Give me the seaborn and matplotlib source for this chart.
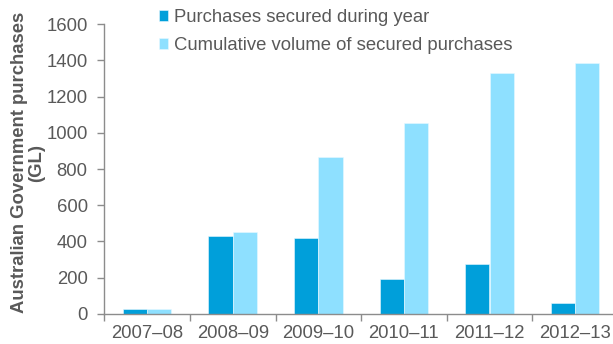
import matplotlib
matplotlib.use("Agg")
import matplotlib.pyplot as plt
import seaborn as sns
import pandas as pd
from matplotlib.ticker import FixedLocator

# Financial years and purchase volumes (GL)
years = ["2007–08", "2008–09", "2009–10", "2010–11", "2011–12", "2012–13"]
secured_during_year = [24, 428, 417, 190, 276, 59]
cumulative_secured = [24, 450, 865, 1054, 1329, 1386]
series_names = ["Purchases secured during year",
                "Cumulative volume of secured purchases"]
y_ticks = [0, 200, 400, 600, 800, 1000, 1200, 1400, 1600]

colors = ["#009FDA", "#8EE0FF"]
text_color = "#595959"
axis_color = "#8C8C8C"
fs = 13.3

df = pd.DataFrame({
    "year": years * 2,
    "value": secured_during_year + cumulative_secured,
    "series": [series_names[0]] * len(years) + [series_names[1]] * len(years),
})

sns.set_style("white")
plt.rcParams["font.family"] = ["Liberation Sans", "DejaVu Sans"]

W, H = 613, 344
fig = plt.figure(figsize=(W / 100, H / 100), dpi=100)
ax_left, ax_right = 104.3, 613.0
ax_top, ax_bottom = 24.3, 313.7
ax = fig.add_axes([ax_left / W, 1 - ax_bottom / H,
                   (ax_right - ax_left) / W, (ax_bottom - ax_top) / H])

sns.barplot(data=df, x="year", y="value", hue="series", order=years,
            hue_order=series_names, palette=colors, width=0.57, gap=0,
            saturation=1, edgecolor="#E8F8FF", linewidth=0.4, ax=ax)

cat_w = 85.6
ax.set_xlim(-0.5, -0.5 + (ax_right - ax_left) / cat_w)
ax.set_ylim(0, 1600)
ax.set_yticks(y_ticks)
ax.set_yticklabels([str(t) for t in y_ticks])

# category separators as ticks on the x axis
ax.xaxis.set_minor_locator(FixedLocator([i - 0.5 for i in range(len(years) + 1)]))
ax.tick_params(axis="x", which="major", length=0, pad=8,
               labelsize=fs, labelcolor=text_color)
ax.tick_params(axis="x", which="minor", length=5, width=1, color=axis_color,
               direction="out", bottom=True)
ax.tick_params(axis="y", which="major", length=5, width=1, color=axis_color,
               direction="out", left=True, pad=7,
               labelsize=fs, labelcolor=text_color)

for side in ["top", "right"]:
    ax.spines[side].set_visible(False)
for side in ["left", "bottom"]:
    ax.spines[side].set_color(axis_color)
    ax.spines[side].set_linewidth(1)

ax.set_xlabel("")
ax.set_ylabel("")
fig.text(28 / W, 1 - 162.5 / H, "Australian Government purchases\n(GL)",
         rotation=90, ha="center", va="center", multialignment="center",
         fontsize=fs, fontweight="bold", color=text_color, linespacing=1.05)

handles, labels = ax.get_legend_handles_labels()
ax.legend(handles, labels, loc="upper left",
          bbox_to_anchor=(159 / W, 1 - 9 / H), bbox_transform=fig.transFigure,
          frameon=False, fontsize=fs, handlelength=0.5, handleheight=0.5,
          handletextpad=0.3, labelspacing=0.6, borderpad=0,
          borderaxespad=0, labelcolor=text_color)

fig.savefig("out.png", dpi=100)
